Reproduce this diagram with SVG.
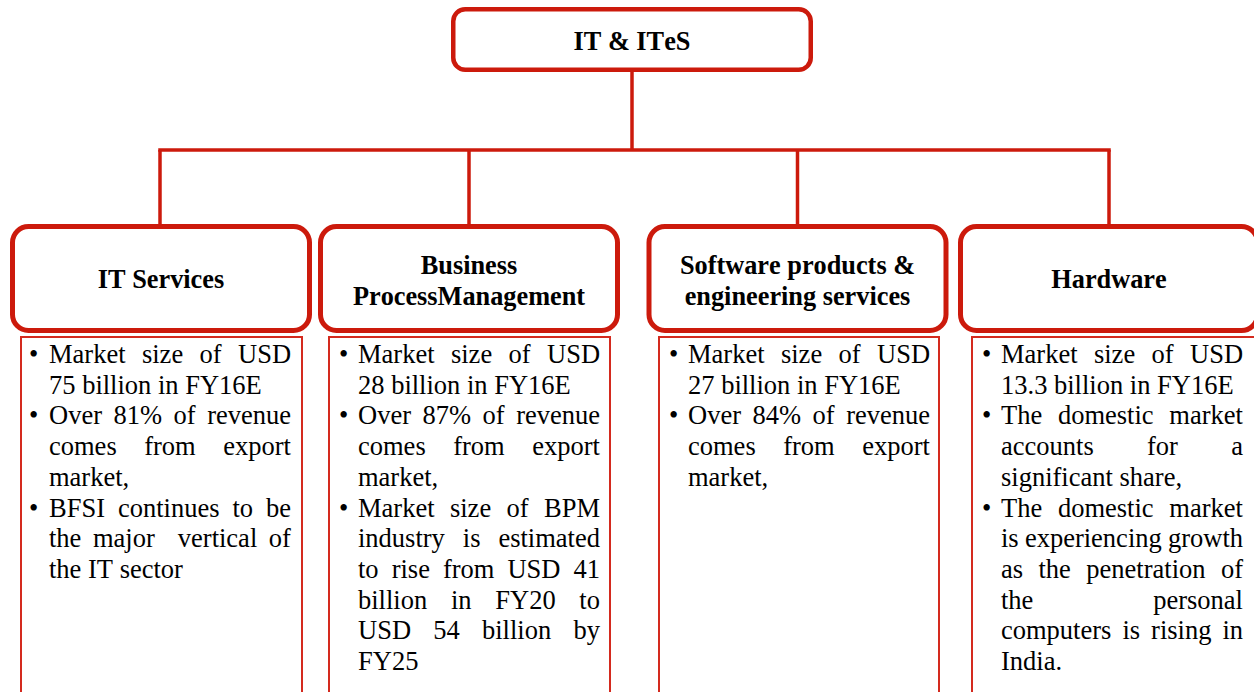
<svg xmlns="http://www.w3.org/2000/svg" width="1254" height="692" viewBox="0 0 1254 692">
<style>
.hdr{fill:#fff;stroke:#CC1A0C;stroke-width:5}
.top{fill:#fff;stroke:#CC1A0C;stroke-width:4.5}
.tb{fill:#fff;stroke:#D42A1E;stroke-width:2}
.conn{fill:none;stroke:#CC1A0C;stroke-width:3.5}
.ht{font-family:"Liberation Serif","Times New Roman",serif;font-size:26.3px;font-weight:bold;fill:#000;text-anchor:middle;font-kerning:none}
.bt{font-family:"Liberation Serif","Times New Roman",serif;font-size:26.5px;fill:#000;font-kerning:none}
</style>
<g id="connectors">
<line class="conn" x1="632" y1="71" x2="632" y2="150"/>
<line class="conn" x1="158.25" y1="150" x2="1110.75" y2="150"/>
<line class="conn" x1="160" y1="150" x2="160" y2="225"/>
<line class="conn" x1="469" y1="150" x2="469" y2="225"/>
<line class="conn" x1="797.5" y1="150" x2="797.5" y2="225"/>
<line class="conn" x1="1109" y1="150" x2="1109" y2="225"/>
</g>
<g id="root">
<rect class="top" x="453.25" y="9.25" width="357.5" height="60.5" rx="12"/>
<text class="ht" x="632" y="50">IT &amp; ITeS</text>
</g>
<g id="it-services">
<rect class="hdr" x="12.5" y="226.5" width="297" height="104" rx="16"/>
<text class="ht" x="161" y="288">IT Services</text>
</g>
<g id="bpm">
<rect class="hdr" x="320.5" y="226.5" width="297" height="104" rx="16"/>
<text class="ht" x="469" y="274">Business</text>
<text class="ht" x="469" y="305">ProcessManagement</text>
</g>
<g id="software">
<rect class="hdr" x="649" y="226.5" width="297" height="104" rx="16"/>
<text class="ht" x="797.5" y="274">Software products &amp;</text>
<text class="ht" x="797.5" y="305">engineering services</text>
</g>
<g id="hardware">
<rect class="hdr" x="960.5" y="226.5" width="297" height="104" rx="16"/>
<text class="ht" x="1109" y="288">Hardware</text>
</g>
<g id="it-services-details">
<rect class="tb" x="21" y="337" width="281" height="400"/>
<text class="bt" x="29" y="363">•</text>
<text class="bt" x="29" y="424.4">•</text>
<text class="bt" x="29" y="516.5">•</text>
<text class="bt" x="49" y="363" word-spacing="9.8">Market size of USD</text>
<text class="bt" x="49" y="393.7">75 billion in FY16E</text>
<text class="bt" x="49" y="424.4" word-spacing="4.9">Over 81% of revenue</text>
<text class="bt" x="49" y="455.1" word-spacing="20.9">comes from export</text>
<text class="bt" x="49" y="485.8">market,</text>
<text class="bt" x="49" y="516.5" word-spacing="6.3">BFSI continues to be</text>
<text class="bt" x="49" y="547.2" word-spacing="4.9">the major <tspan dx="11.55">vertical</tspan> of</text>
<text class="bt" x="49" y="577.9">the IT sector</text>
</g>
<g id="bpm-details">
<rect class="tb" x="329" y="337" width="281" height="400"/>
<text class="bt" x="339" y="363">•</text>
<text class="bt" x="339" y="424.4">•</text>
<text class="bt" x="339" y="516.5">•</text>
<text class="bt" x="358" y="363" word-spacing="9.8">Market size of USD</text>
<text class="bt" x="358" y="393.7">28 billion in FY16E</text>
<text class="bt" x="358" y="424.4" word-spacing="4.9">Over 87% of revenue</text>
<text class="bt" x="358" y="455.1" word-spacing="20.9">comes from export</text>
<text class="bt" x="358" y="485.8">market,</text>
<text class="bt" x="358" y="516.5" word-spacing="8.8">Market size of BPM</text>
<text class="bt" x="358" y="547.2" word-spacing="11.3">industry is estimated</text>
<text class="bt" x="358" y="577.9" word-spacing="6.4">to rise from USD 41</text>
<text class="bt" x="358" y="608.6" word-spacing="17.1">billion in FY20 to</text>
<text class="bt" x="358" y="639.3" word-spacing="15.6">USD 54 billion by</text>
<text class="bt" x="358" y="670">FY25</text>
</g>
<g id="software-details">
<rect class="tb" x="659" y="337" width="280" height="400"/>
<text class="bt" x="669" y="363">•</text>
<text class="bt" x="669" y="424.4">•</text>
<text class="bt" x="688" y="363" word-spacing="9.8">Market size of USD</text>
<text class="bt" x="688" y="393.7">27 billion in FY16E</text>
<text class="bt" x="688" y="424.4" word-spacing="4.9">Over 84% of revenue</text>
<text class="bt" x="688" y="455.1" word-spacing="20.9">comes from export</text>
<text class="bt" x="688" y="485.8">market,</text>
</g>
<g id="hardware-details">
<rect class="tb" x="972" y="337" width="283" height="400"/>
<text class="bt" x="982" y="363">•</text>
<text class="bt" x="982" y="424.4">•</text>
<text class="bt" x="982" y="516.5">•</text>
<text class="bt" x="1001" y="363" word-spacing="9.8">Market size of USD</text>
<text class="bt" x="1001" y="393.7">13.3 billion in FY16E</text>
<text class="bt" x="1001" y="424.4" word-spacing="9.1">The domestic market</text>
<text class="bt" x="1001" y="455.1" word-spacing="46.7">accounts for a</text>
<text class="bt" x="1001" y="485.8">significant share,</text>
<text class="bt" x="1001" y="516.5" word-spacing="9.1">The domestic market</text>
<text class="bt" x="1001" y="547.2" word-spacing="-0.4">is experiencing growth</text>
<text class="bt" x="1001" y="577.9" word-spacing="8.8">as the penetration of</text>
<text class="bt" x="1001" y="608.6" word-spacing="113.2">the personal</text>
<text class="bt" x="1001" y="639.3" word-spacing="4.4">computers is rising in</text>
<text class="bt" x="1001" y="670">India.</text>
</g>
</svg>
